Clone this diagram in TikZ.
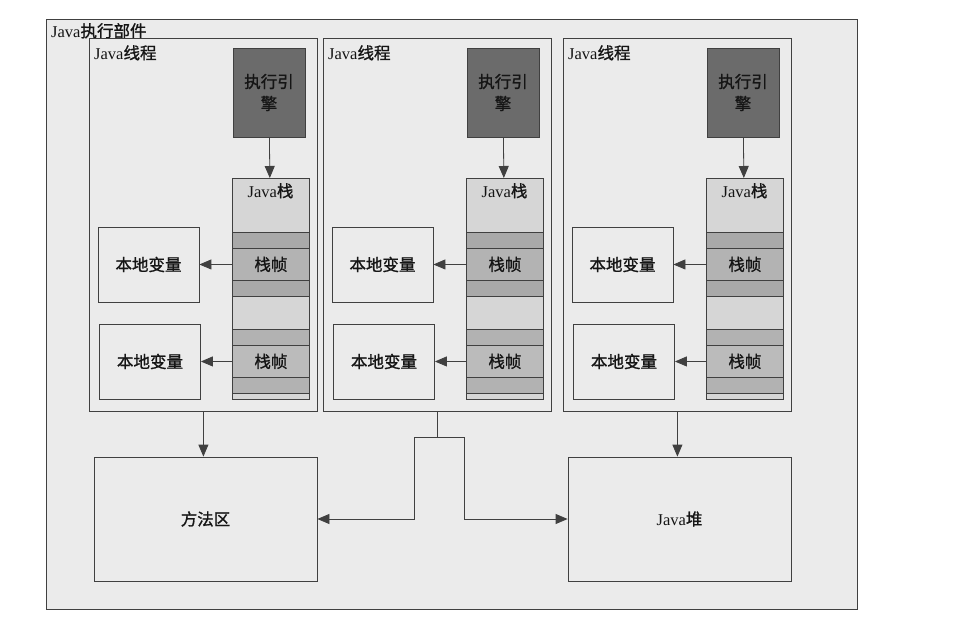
\documentclass[tikz,border=0pt]{standalone}
\usepackage{fontspec}
\setmainfont{Liberation Serif}
\newfontfamily\cjk[FakeBold=1.2]{Noto Sans CJK SC}
\usetikzlibrary{arrows.meta,calc}
\newcommand{\zh}[1]{{\cjk #1}}
\definecolor{lnclr}{HTML}{404040}
\definecolor{txtclr}{HTML}{151515}
\definecolor{bgclr}{HTML}{EBEBEB}
\definecolor{engclr}{HTML}{6B6B6B}
\definecolor{stkclr}{HTML}{D6D6D6}
\definecolor{bandclr}{HTML}{A9A9A9}
\definecolor{frmclr}{HTML}{B3B3B3}
\definecolor{bandclrb}{HTML}{B2B2B2}
\definecolor{frmclrb}{HTML}{BBBBBB}
\tikzset{
  box/.style={draw=lnclr, line width=0.8pt, fill=bgclr, inner sep=0pt, text=txtclr},
  engbox/.style={box, fill=engclr, minimum width=72, minimum height=89, align=center},
  stkbox/.style={box, fill=stkclr, minimum width=77, minimum height=221},
  frmbox/.style={box, fill=frmclr, minimum width=77, minimum height=32},
  varbox/.style={box, minimum width=101, minimum height=75},
  areabox/.style={box, minimum width=223, minimum height=124},
  tag/.style={inner sep=0pt, text=txtclr},
  conn/.style={draw=lnclr, line width=0.8pt},
  arr/.style={conn, -{Triangle[length=12pt,width=10pt]}}
}
\begin{document}
\begin{tikzpicture}[x=1pt, y=-1pt, font=\fontsize{16.5}{22}\selectfont]
  \useasboundingbox (0,0) rectangle (979,628);
  \node[box, minimum width=811, minimum height=590, anchor=north west] (vm) at (46,19) {};
  \node[tag, anchor=north west] (vmlbl) at (51,23) {Java\zh{执行部件}};
  % threads
  \foreach \i/\bx in {1/89,2/323,3/563}{
    \node[box, minimum width=228, minimum height=373, anchor=north west] (t\i) at (\bx,38) {};
    \node[tag, anchor=north west] (tl\i) at (\bx+5,45) {Java\zh{线程}};
    \node[engbox] (e\i) at (\bx+180,92.5) {\zh{执行引}\\\zh{擎}};
    \node[stkbox, anchor=north west] (s\i) at (\bx+143,178) {};
    \node[tag, anchor=north] (sl\i) at (\bx+181.5,183) {Java\zh{栈}};
    \draw[box, fill=bandclr] (\bx+143,232) rectangle (\bx+220,248);
    \node[frmbox, anchor=north west] (fa\i) at (\bx+143,248) {\zh{栈帧}};
    \draw[box, fill=bandclr] (\bx+143,280) rectangle (\bx+220,296);
    \draw[box, fill=bandclrb] (\bx+143,329) rectangle (\bx+220,345);
    \node[frmbox, fill=frmclrb, anchor=north west] (fb\i) at (\bx+143,345) {\zh{栈帧}};
    \draw[box, fill=bandclrb] (\bx+143,377) rectangle (\bx+220,393);
    \node[varbox] (la\i) at (\bx+59.5,264.5) {\zh{本地变量}};
    \node[varbox] (lb\i) at (\bx+61,361.5) {\zh{本地变量}};
    \draw[arr] (e\i) -- (s\i);
    \draw[arr] (fa\i.west) -- (la\i.east);
    \draw[arr] (fb\i.west) -- (lb\i.east);
  }
  % shared areas
  \node[areabox] (mth) at (205.5,519) {\zh{方法区}};
  \node[areabox] (heap) at (679.5,519) {Java\zh{堆}};
  \draw[arr] (t1.south) -- (t1.south |- mth.north);
  \draw[arr] (t3.south) -- (t3.south |- heap.north);
  \coordinate (sp) at ($(t2.south)+(0,26)$);
  \draw[conn] (t2.south) -- (sp);
  \draw[arr] (sp) -- ++(-23,0) |- (mth.east);
  \draw[arr] (sp) -- ++(27,0) |- (heap.west);
\end{tikzpicture}
\end{document}
